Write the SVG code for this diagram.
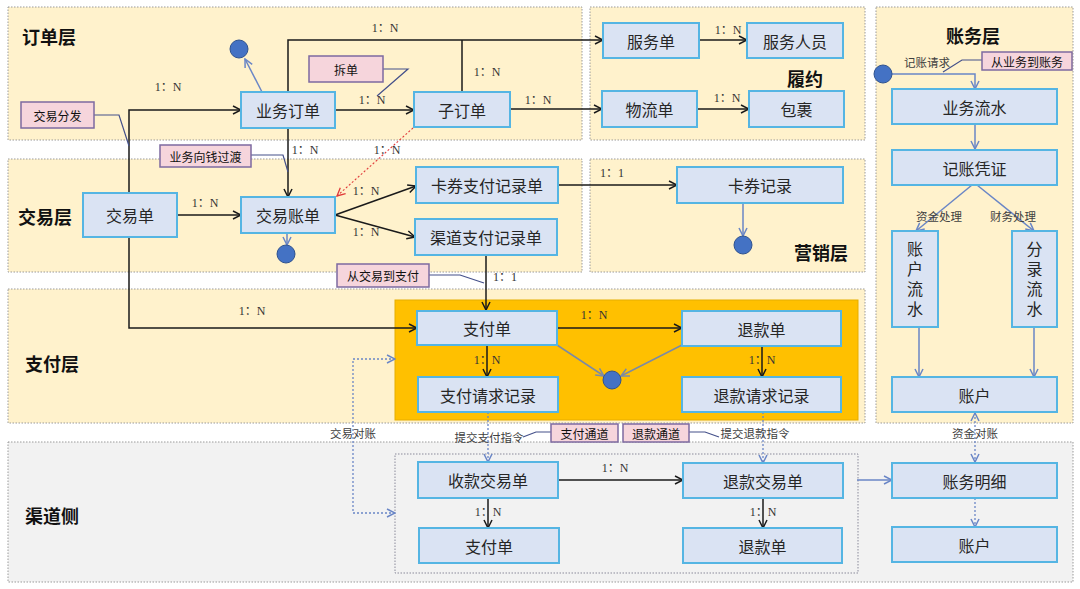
<svg xmlns="http://www.w3.org/2000/svg" width="1080" height="589" viewBox="0 0 1080 589">
<style>
.layer{fill:#fff2cc;stroke:#9a9a9a;stroke-width:1;stroke-dasharray:1.5 1.5}
.chan{fill:#f2f2f2;stroke:#9a9a9a;stroke-width:1;stroke-dasharray:1.5 1.5}
.inner{fill:none;stroke:#8a8a9a;stroke-width:1;stroke-dasharray:1.5 1.5}
.node rect{fill:#dae3f3;stroke:#55b5e3;stroke-width:2}
.node text{font-family:"Noto Sans CJK SC","Noto Sans",sans-serif;font-size:16px;fill:#262626;text-anchor:middle;dominant-baseline:central}
.node text.vt{writing-mode:vertical-rl;letter-spacing:4px}
.call rect{fill:#f6d5dc;stroke:#7d6aa0;stroke-width:1.5}
.call text{font-family:"Noto Sans CJK SC","Noto Sans",sans-serif;font-size:12px;fill:#111;text-anchor:middle;dominant-baseline:central}
.call path{fill:none;stroke:#44508a;stroke-width:1.2}
.ll{font-family:"Noto Sans CJK SC","Noto Sans",sans-serif;font-size:18px;font-weight:bold;fill:#111;dominant-baseline:central}
.rel{font-family:"Liberation Serif","Noto Sans CJK SC",serif;font-size:12px;fill:#333;text-anchor:middle;dominant-baseline:central}
.sm{font-family:"Noto Sans CJK SC","Noto Sans",sans-serif;font-size:11.5px;fill:#404040;text-anchor:middle;dominant-baseline:central}
.k{fill:none;stroke:#1a1a1a;stroke-width:1.5}
.b{fill:none;stroke:#6a86c6;stroke-width:1.5}
.g{fill:none;stroke:#7b8aa6;stroke-width:1.5}
.bd{fill:none;stroke:#6a86c6;stroke-width:1.3;stroke-dasharray:2 2}
.rd{fill:none;stroke:#e03a3a;stroke-width:1.1;stroke-dasharray:2 2}
.dot{fill:#4472c4;stroke:#2f528f;stroke-width:1}
</style>
<defs>
<marker id="ak" viewBox="0 0 10 10" refX="9" refY="5" markerWidth="10" markerHeight="10" markerUnits="userSpaceOnUse" orient="auto"><path d="M1,1 L9,5 L1,9" fill="none" stroke="#1a1a1a" stroke-width="1.5"/></marker>
<marker id="ab" viewBox="0 0 10 10" refX="9" refY="5" markerWidth="10" markerHeight="10" markerUnits="userSpaceOnUse" orient="auto-start-reverse"><path d="M1,1 L9,5 L1,9" fill="none" stroke="#6a86c6" stroke-width="1.5"/></marker>
<marker id="ag" viewBox="0 0 10 10" refX="9" refY="5" markerWidth="10" markerHeight="10" markerUnits="userSpaceOnUse" orient="auto"><path d="M1,1 L9,5 L1,9" fill="none" stroke="#7b8aa6" stroke-width="1.5"/></marker>
<marker id="ar" viewBox="0 0 10 10" refX="9" refY="5" markerWidth="10" markerHeight="10" markerUnits="userSpaceOnUse" orient="auto"><path d="M1,1 L9,5 L1,9" fill="none" stroke="#e03a3a" stroke-width="1.3"/></marker>
</defs>
<rect width="1080" height="589" fill="#ffffff"/>

<g id="layers">
<rect class="layer" x="8" y="7" width="574" height="133"/>
<rect class="layer" x="590" y="7" width="275" height="133"/>
<rect class="layer" x="876" y="7" width="197" height="416"/>
<rect class="layer" x="8" y="159" width="574" height="113"/>
<rect class="layer" x="590" y="159" width="275" height="113"/>
<rect class="layer" x="8" y="289" width="857" height="134"/>
<rect class="chan" x="8" y="442" width="1065" height="140"/>
<rect x="395" y="300" width="463" height="120" fill="#ffc000" stroke="#e6ad00" stroke-width="1"/>
<rect class="inner" x="395" y="454" width="463" height="119"/>
<text class="ll" x="22" y="36">订单层</text>
<text class="ll" x="18" y="216">交易层</text>
<text class="ll" x="25" y="363">支付层</text>
<text class="ll" x="25" y="515">渠道侧</text>
<text class="ll" x="787" y="78">履约</text>
<text class="ll" x="794" y="252">营销层</text>
<text class="ll" x="946" y="35">账务层</text>
</g>

<g id="connectors">
<path class="k" d="M129,193 V110 H241" marker-end="url(#ak)"/>
<path class="k" d="M129,237 V328 H417" marker-end="url(#ak)"/>
<path class="k" d="M177,215 H241" marker-end="url(#ak)"/>
<path class="k" d="M335,110 H414" marker-end="url(#ak)"/>
<path class="k" d="M288,92 V40 H603" marker-end="url(#ak)"/>
<path class="k" d="M462,92 V40"/>
<path class="k" d="M288,128 V197" marker-end="url(#ak)"/>
<path class="k" d="M510,109 H602" marker-end="url(#ak)"/>
<path class="k" d="M699,40 H747" marker-end="url(#ak)"/>
<path class="k" d="M697,109 H749" marker-end="url(#ak)"/>
<path class="rd" d="M413,128 L337,196" marker-end="url(#ar)"/>
<path class="k" d="M335,215 L416,186" marker-end="url(#ak)"/>
<path class="k" d="M335,215 L415,237" marker-end="url(#ak)"/>
<path class="k" d="M558,185 H677" marker-end="url(#ak)"/>
<path class="k" d="M486,255 V310" marker-end="url(#ak)"/>
<path class="k" d="M557,328 H682" marker-end="url(#ak)"/>
<path class="k" d="M487,345 V377" marker-end="url(#ak)"/>
<path class="k" d="M762,346 V377" marker-end="url(#ak)"/>
<path class="g" d="M557,345 L604,376" marker-end="url(#ag)"/>
<path class="g" d="M682,345 L621,376" marker-end="url(#ag)"/>
<path class="b" d="M262,92 L245,59" marker-end="url(#ab)"/>
<path class="b" d="M287,233 V245" marker-end="url(#ab)"/>
<path class="b" d="M743,203 V236" marker-end="url(#ab)"/>
<path class="b" d="M892,74 H975 V89" marker-end="url(#ab)"/>
<path class="b" d="M975,124 V149" marker-end="url(#ab)"/>
<path class="b" d="M972,185 L916,231" marker-end="url(#ab)"/>
<path class="b" d="M977,185 L1034,231" marker-end="url(#ab)"/>
<path class="b" d="M919,327 V377" marker-end="url(#ab)"/>
<path class="b" d="M1034,327 V377" marker-end="url(#ab)"/>
<path class="bd" d="M975,413 V462" marker-start="url(#ab)" marker-end="url(#ab)"/>
<path class="bd" d="M975,498 V527" marker-end="url(#ab)"/>
<path class="b" d="M857,480 H892" marker-end="url(#ab)"/>
<path class="k" d="M558,480 H683" marker-end="url(#ak)"/>
<path class="k" d="M488,498 V528" marker-end="url(#ak)"/>
<path class="k" d="M763,498 V528" marker-end="url(#ak)"/>
<path class="bd" d="M488,412 V462" marker-end="url(#ab)"/>
<path class="bd" d="M763,412 V463" marker-end="url(#ab)"/>
<path class="bd" d="M395,359 H353 V513 H395" marker-start="url(#ab)" marker-end="url(#ab)"/>
<text class="rel" x="168" y="87">1：N</text>
<text class="rel" x="252" y="311">1：N</text>
<text class="rel" x="205" y="203">1：N</text>
<text class="rel" x="372" y="100">1：N</text>
<text class="rel" x="385" y="28">1：N</text>
<text class="rel" x="487" y="72">1：N</text>
<text class="rel" x="538" y="100">1：N</text>
<text class="rel" x="305" y="150">1：N</text>
<text class="rel" x="387" y="150">1：N</text>
<text class="rel" x="728" y="30">1：N</text>
<text class="rel" x="727" y="98">1：N</text>
<text class="rel" x="366" y="191">1：N</text>
<text class="rel" x="366" y="232">1：N</text>
<text class="rel" x="612" y="173">1：1</text>
<text class="rel" x="505" y="277">1：1</text>
<text class="rel" x="594" y="315">1：N</text>
<text class="rel" x="487" y="360">1：N</text>
<text class="rel" x="762" y="360">1：N</text>
<text class="rel" x="615" y="468">1：N</text>
<text class="rel" x="488" y="512">1：N</text>
<text class="rel" x="763" y="512">1：N</text>
<text class="sm" x="927" y="62">记账请求</text>
<text class="sm" x="939" y="216">资金处理</text>
<text class="sm" x="1013" y="216">财务处理</text>
<text class="sm" x="975" y="433">资金对账</text>
<text class="sm" x="489" y="437">提交支付指令</text>
<text class="sm" x="755" y="433">提交退款指令</text>
<text class="sm" x="353" y="433">交易对账</text>
</g>

<g id="callouts">
<g id="c-fenfa" class="call"><path d="M94,115 H119 L129,146"/><rect x="21" y="102" width="73" height="26"/><text x="57.5" y="115">交易分发</text></g>
<g id="c-guodu" class="call"><path d="M251,155 H283 L288,172"/><rect x="160" y="145" width="91" height="22"/><text x="205.5" y="156">业务向钱过渡</text></g>
<g id="c-chaidan" class="call"><path d="M383,69 H408 L377,96"/><rect x="309" y="56" width="74" height="26"/><text x="346" y="69">拆单</text></g>
<g id="c-zhifu" class="call"><path d="M429,275 H460 L484,283"/><rect x="337" y="264" width="92" height="23"/><text x="383" y="275.5">从交易到支付</text></g>
<g id="c-zhangwu" class="call"><path d="M982,60 H962 L943,72"/><rect x="982" y="52" width="90" height="18"/><text x="1027" y="61">从业务到账务</text></g>
<g id="c-zftd" class="call"><path d="M551,432 H536 L523,437"/><rect x="551" y="424" width="67" height="18"/><text x="584.5" y="433">支付通道</text></g>
<g id="c-tktd" class="call"><path d="M689,432 H705 L719,437"/><rect x="623" y="424" width="66" height="18"/><text x="656" y="433">退款通道</text></g>
</g>

<g id="dots">
<circle class="dot" cx="239" cy="49" r="9"/>
<circle class="dot" cx="286" cy="254" r="9"/>
<circle class="dot" cx="743" cy="245" r="9"/>
<circle class="dot" cx="612" cy="380" r="9"/>
<circle class="dot" cx="883" cy="74" r="9"/>
</g>

<g id="n-yewudingdan" class="node"><rect x="241" y="92" width="94" height="36"/><text x="288" y="110">业务订单</text></g>
<g id="n-zidingdan" class="node"><rect x="414" y="92" width="96" height="35"/><text x="462" y="109.5">子订单</text></g>
<g id="n-fuwudan" class="node"><rect x="603" y="23" width="96" height="35"/><text x="651" y="40.5">服务单</text></g>
<g id="n-fuwurenyuan" class="node"><rect x="747" y="23" width="96" height="35"/><text x="795" y="40.5">服务人员</text></g>
<g id="n-wuliudan" class="node"><rect x="602" y="91" width="95" height="36"/><text x="649.5" y="109">物流单</text></g>
<g id="n-baoguo" class="node"><rect x="749" y="91" width="95" height="36"/><text x="796.5" y="109">包裹</text></g>
<g id="n-jiaoyidan" class="node"><rect x="83" y="193" width="94" height="44"/><text x="130" y="215">交易单</text></g>
<g id="n-jiaoyizhangdan" class="node"><rect x="241" y="197" width="94" height="36"/><text x="288" y="215">交易账单</text></g>
<g id="n-kaquanzhifu" class="node"><rect x="416" y="167" width="142" height="36"/><text x="487" y="185">卡券支付记录单</text></g>
<g id="n-qudaozhifu" class="node"><rect x="415" y="219" width="142" height="36"/><text x="486" y="237">渠道支付记录单</text></g>
<g id="n-kaquanjilu" class="node"><rect x="677" y="167" width="166" height="36"/><text x="760" y="185">卡券记录</text></g>
<g id="n-zhifudan" class="node"><rect x="417" y="311" width="140" height="34"/><text x="487" y="328">支付单</text></g>
<g id="n-tuikuandan" class="node"><rect x="682" y="311" width="159" height="35"/><text x="761.5" y="328.5">退款单</text></g>
<g id="n-zhifuqingqiu" class="node"><rect x="418" y="377" width="140" height="35"/><text x="488" y="394.5">支付请求记录</text></g>
<g id="n-tuikuanqingqiu" class="node"><rect x="682" y="377" width="159" height="35"/><text x="761.5" y="394.5">退款请求记录</text></g>
<g id="n-shoukuanjiaoyi" class="node"><rect x="418" y="462" width="140" height="36"/><text x="488" y="480">收款交易单</text></g>
<g id="n-qd-zhifudan" class="node"><rect x="419" y="528" width="140" height="35"/><text x="489" y="545.5">支付单</text></g>
<g id="n-tuikuanjiaoyi" class="node"><rect x="683" y="463" width="160" height="35"/><text x="763" y="480.5">退款交易单</text></g>
<g id="n-qd-tuikuandan" class="node"><rect x="683" y="528" width="159" height="35"/><text x="762.5" y="545.5">退款单</text></g>
<g id="n-yewuliushui" class="node"><rect x="892" y="89" width="165" height="35"/><text x="974.5" y="106.5">业务流水</text></g>
<g id="n-jizhangpingzheng" class="node"><rect x="892" y="150" width="165" height="35"/><text x="974.5" y="167.5">记账凭证</text></g>
<g id="n-zhanghuliushui" class="node"><rect x="892" y="231" width="46" height="96"/><text class="vt" x="915" y="281">账户流水</text></g>
<g id="n-fenluliushui" class="node"><rect x="1012" y="231" width="45" height="96"/><text class="vt" x="1034.5" y="281">分录流水</text></g>
<g id="n-zhanghu" class="node"><rect x="892" y="377" width="165" height="35"/><text x="974.5" y="394.5">账户</text></g>
<g id="n-zhangwumingxi" class="node"><rect x="892" y="463" width="165" height="35"/><text x="974.5" y="480.5">账务明细</text></g>
<g id="n-qd-zhanghu" class="node"><rect x="892" y="527" width="165" height="35"/><text x="974.5" y="544.5">账户</text></g>
</svg>
